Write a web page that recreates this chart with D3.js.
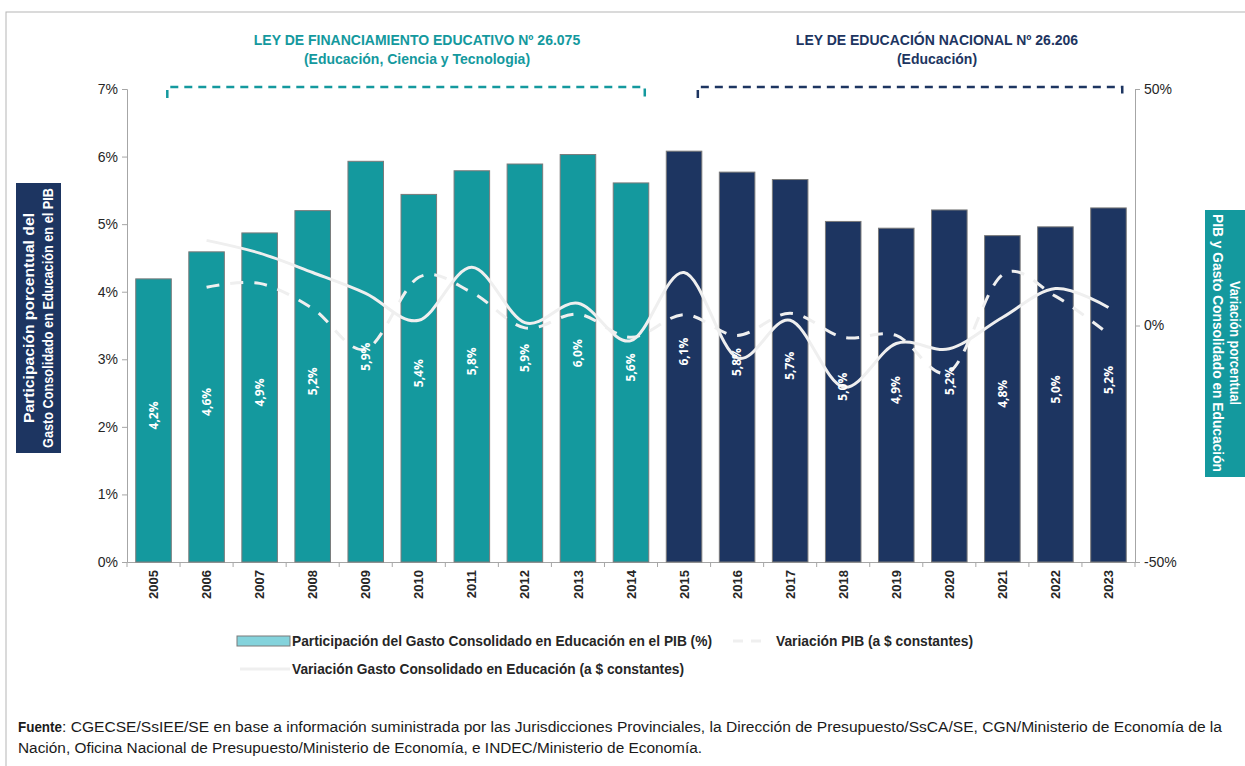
<!DOCTYPE html>
<html>
<head>
<meta charset="utf-8">
<script src="https://cdn.jsdelivr.net/npm/d3@7"></script>
<style>
  body { margin: 0; background: #fff; }
  svg { display: block; font-family: "Liberation Sans", Arial, sans-serif; }
</style>
</head>
<body>
<div class="chart"></div>
<script>
const years = ['2005', '2006', '2007', '2008', '2009', '2010', '2011', '2012', '2013', '2014',
  '2015', '2016', '2017', '2018', '2019', '2020', '2021', '2022', '2023']
// participacion del gasto en el PIB (%)
const gastoPib = [4.19, 4.59, 4.87, 5.20, 5.93, 5.44, 5.79, 5.89, 6.03, 5.61,
  6.08, 5.77, 5.66, 5.04, 4.94, 5.21, 4.83, 4.96, 5.24]
// variaciones anuales (%), desde 2006
const varYears = years.slice(1)
const varPib = [8.1, 8.9, 3.6, -5.0, 10.2, 7.0, -0.5, 2.4, -2.5, 2.3, -2.1, 2.6, -2.5, -2.1, -9.8, 10.7, 6.2, -1.8]
const varGasto = [18.0, 15.3, 11.2, 6.8, 1.1, 12.3, 0.6, 4.7, -3.2, 11.2, -6.8, 1.1, -13.0, -3.8, -4.9, 1.7, 7.8, 3.8]
const leftTicks = [0, 1, 2, 3, 4, 5, 6, 7]
const rightTicks = [-50, 0, 50]
const firstLaw = years.slice(0, 10)

const teal = '#14999e'
const navy = '#1d3561'
const lineCol = '#efefef'

const width = 1245
const height = 766

const svg = d3.select('.chart')
  .append('svg')
  .attr('width', width)
  .attr('height', height)

// marco
svg.append('rect')
  .attr('x', 6).attr('y', 12)
  .attr('width', width).attr('height', height)
  .attr('fill', 'none')
  .attr('stroke', '#b5b5b5')

const x = d3.scaleBand().domain(years).range([127, 1135]).paddingInner(0.33).paddingOuter(0.165)
const y = d3.scaleLinear().domain([0, 7]).range([562, 89])
const y2 = d3.scaleLinear().domain([-50, 50]).range([562, 89])

// ejes
const gl = svg.append('g')
  .attr('transform', 'translate(127,0)')
  .call(d3.axisLeft(y).tickValues(leftTicks).tickFormat((d) => d + '%').tickSize(5).tickPadding(4))
const gr = svg.append('g')
  .attr('transform', 'translate(1135,0)')
  .call(d3.axisRight(y2).tickValues(rightTicks).tickFormat((d) => d + '%').tickSize(5).tickPadding(4))
const gb = svg.append('g')
  .attr('transform', 'translate(0,562)')
  .call(d3.axisBottom(x).tickSize(0).tickPadding(8))

;[gl, gr, gb].forEach((g) => {
  g.select('.domain').attr('stroke', '#a6a6a6')
  g.selectAll('.tick line').attr('stroke', '#a6a6a6')
  g.selectAll('text').attr('fill', '#262626').attr('font-size', 14)
    .attr('font-family', '"Liberation Sans", Arial, sans-serif')
})

gb.selectAll('.tick text')
  .attr('font-weight', 'bold')
  .attr('font-size', 13)
  .attr('transform', 'rotate(-90)')
  .attr('text-anchor', 'end')
  .attr('dy', '0.35em')
  .attr('x', -8)
  .attr('y', 0)

// marcas entre categorias
const step = x.step()
gb.selectAll('.sep')
  .data(years.concat(['end']))
  .enter()
  .append('line')
  .attr('x1', (d, i) => 127 + i * step)
  .attr('x2', (d, i) => 127 + i * step)
  .attr('y1', 0).attr('y2', 5)
  .attr('stroke', '#a6a6a6')

// barras
svg.selectAll('.bar')
  .data(years)
  .enter()
  .append('rect')
  .attr('class', 'bar')
  .attr('x', (d) => x(d))
  .attr('width', x.bandwidth())
  .attr('y', (d, i) => y(gastoPib[i]))
  .attr('height', (d, i) => y(0) - y(gastoPib[i]))
  .attr('fill', (d) => firstLaw.includes(d) ? teal : navy)
  .attr('stroke', '#7a7a7a')
  .attr('stroke-width', 1)

// lineas suavizadas
const lineVar = d3.line()
  .x((d, i) => x(varYears[i]) + x.bandwidth() / 2)
  .y((d) => y2(d))
  .curve(d3.curveCardinal.tension(0))

svg.append('path')
  .attr('d', lineVar(varPib))
  .attr('fill', 'none')
  .attr('stroke', lineCol)
  .attr('stroke-width', 3)
  .attr('stroke-dasharray', '13,11')

svg.append('path')
  .attr('d', lineVar(varGasto))
  .attr('fill', 'none')
  .attr('stroke', lineCol)
  .attr('stroke-width', 3)

// etiquetas de barras
svg.selectAll('.lbl')
  .data(years)
  .enter()
  .append('text')
  .attr('class', 'lbl')
  .attr('transform', (d, i) => {
    const cx = x(d) + x.bandwidth() / 2
    const cy = (y(gastoPib[i]) + y(0)) / 2 - 5
    return `translate(${cx},${cy}) rotate(-90)`
  })
  .attr('text-anchor', 'middle')
  .attr('dy', '0.35em')
  .attr('fill', '#fff')
  .attr('font-family', '"Open Sans", "DejaVu Sans", sans-serif')
  .attr('font-weight', 'bold')
  .attr('font-size', 12)
  .text((d, i) => d3.format('.1f')(gastoPib[i]).replace('.', ',') + '%')

// corchetes de leyes
const bracket = (a, b, color) => {
  const x1 = x(a) + x.bandwidth() - 4
  const x2 = x(b) + x.bandwidth() - 4
  svg.append('path')
    .attr('d', `M${x1},98 L${x1},87 L${x2},87 L${x2},98`)
    .attr('fill', 'none')
    .attr('stroke', color)
    .attr('stroke-width', 2.5)
    .attr('stroke-dasharray', '8,6')
}
bracket('2005', '2014', teal)
bracket('2015', '2023', navy)

const header = (cx, lines, color) => {
  lines.forEach((t, i) => {
    svg.append('text')
      .attr('x', cx)
      .attr('y', 45 + i * 19)
      .attr('text-anchor', 'middle')
      .attr('fill', color)
      .attr('font-weight', 'bold')
      .attr('font-size', 14)
      .text(t)
  })
}
header(417, ['LEY DE FINANCIAMIENTO EDUCATIVO Nº 26.075', '(Educación, Ciencia y Tecnologia)'], teal)
header(937, ['LEY DE EDUCACIÓN NACIONAL Nº 26.206', '(Educación)'], navy)

// titulos de ejes
svg.append('rect')
  .attr('x', 16).attr('y', 183)
  .attr('width', 45).attr('height', 270)
  .attr('fill', navy)
const lt = svg.append('g')
  .attr('transform', 'translate(38,318) rotate(-90)')
  .attr('fill', '#fff')
  .attr('font-weight', 'bold')
  .attr('font-size', 14)
lt.append('text').attr('x', -105).attr('y', -4)
  .attr('textLength', 210).attr('lengthAdjust', 'spacingAndGlyphs')
  .text('Participación porcentual del')
lt.append('text').attr('x', -130).attr('y', 15)
  .attr('textLength', 260).attr('lengthAdjust', 'spacingAndGlyphs')
  .text('Gasto Consolidado en Educación en el PIB')

svg.append('rect')
  .attr('x', 1205).attr('y', 210)
  .attr('width', 45).attr('height', 267)
  .attr('fill', teal)
const rt = svg.append('g')
  .attr('transform', 'translate(1226,343) rotate(90)')
  .attr('fill', '#fff')
  .attr('font-weight', 'bold')
  .attr('font-size', 14)
rt.append('text').attr('x', -62).attr('y', -4)
  .attr('textLength', 124).attr('lengthAdjust', 'spacingAndGlyphs')
  .text('Variación porcentual')
rt.append('text').attr('x', -129).attr('y', 13)
  .attr('textLength', 258).attr('lengthAdjust', 'spacingAndGlyphs')
  .text('PIB y Gasto Consolidado en Educación')

// leyenda
const leg = svg.append('g').attr('font-weight', 'bold').attr('font-size', 14).attr('fill', '#262626')
leg.append('rect')
  .attr('x', 237).attr('y', 636).attr('width', 53).attr('height', 10)
  .attr('fill', '#84d3dc').attr('stroke', '#7a7a7a')
leg.append('text').attr('x', 292).attr('y', 646)
  .attr('textLength', 420).attr('lengthAdjust', 'spacingAndGlyphs')
  .text('Participación del Gasto Consolidado en Educación en el PIB (%)')
leg.append('line')
  .attr('x1', 733).attr('x2', 768).attr('y1', 641).attr('y2', 641)
  .attr('stroke', lineCol).attr('stroke-width', 3).attr('stroke-dasharray', '10,8')
leg.append('text').attr('x', 776).attr('y', 646)
  .attr('textLength', 197).attr('lengthAdjust', 'spacingAndGlyphs')
  .text('Variación PIB (a $ constantes)')
leg.append('line')
  .attr('x1', 240).attr('x2', 290).attr('y1', 669).attr('y2', 669)
  .attr('stroke', lineCol).attr('stroke-width', 3)
leg.append('text').attr('x', 292).attr('y', 674)
  .attr('textLength', 392).attr('lengthAdjust', 'spacingAndGlyphs')
  .text('Variación Gasto Consolidado en Educación (a $ constantes)')

// fuente
const foot = svg.append('g').attr('font-size', 14).attr('fill', '#1a1a1a')
foot.append('text').attr('x', 18).attr('y', 732)
  .attr('font-weight', 'bold')
  .attr('textLength', 44).attr('lengthAdjust', 'spacingAndGlyphs')
  .text('Fuente')
foot.append('text').attr('x', 62).attr('y', 732)
  .attr('textLength', 1160).attr('lengthAdjust', 'spacingAndGlyphs')
  .text(': CGECSE/SsIEE/SE en base a información suministrada por las Jurisdicciones  Provinciales,  la Dirección de Presupuesto/SsCA/SE,  CGN/Ministerio de Economía de la')
foot.append('text').attr('x', 18).attr('y', 753)
  .attr('textLength', 684).attr('lengthAdjust', 'spacingAndGlyphs')
  .text('Nación,  Oficina Nacional de Presupuesto/Ministerio  de Economía,  e INDEC/Ministerio de Economía.')
</script>
</body>
</html>
